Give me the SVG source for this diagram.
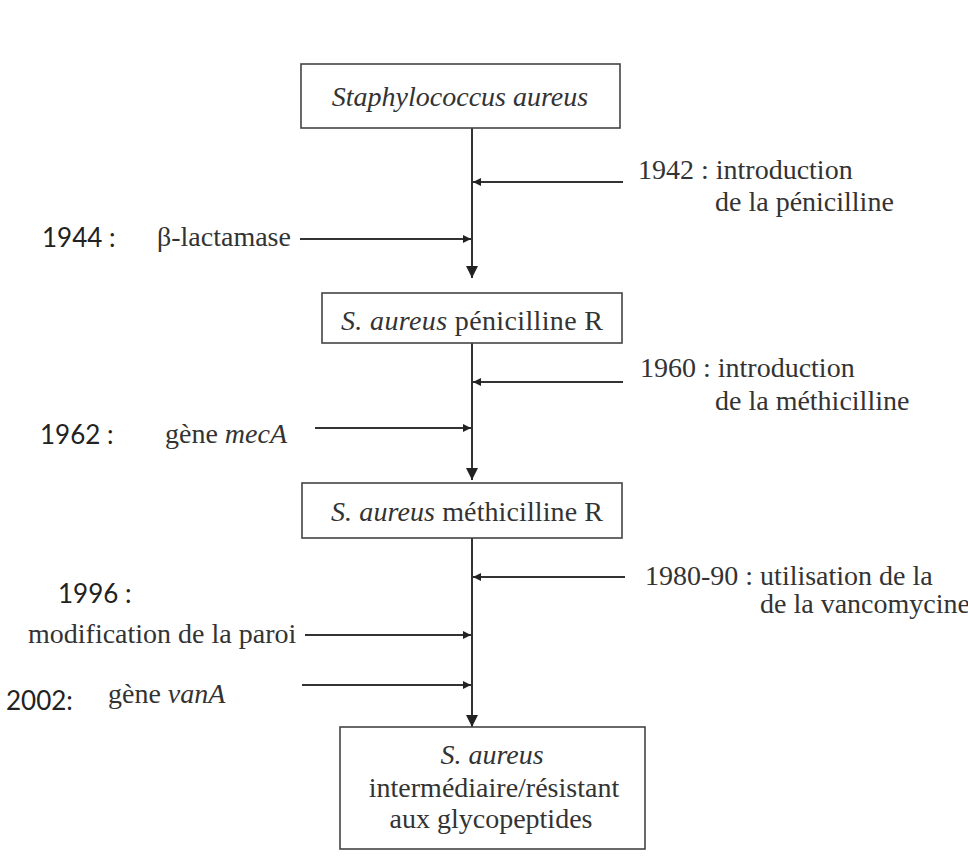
<svg xmlns="http://www.w3.org/2000/svg" width="968" height="864" viewBox="0 0 968 864">
<style>
.box{fill:#fff;stroke:#444;stroke-width:1.6}
.t{font-family:"Liberation Serif","Times New Roman",serif;font-size:28px;fill:#333}
.i{font-style:italic}
.y{font-family:Lato,"Open Sans",sans-serif;font-size:26px;fill:#222}
.ln{stroke:#333;stroke-width:2;fill:none}
</style>
<defs>
<marker id="ad" markerWidth="12" markerHeight="12" refX="10" refY="5" orient="auto" markerUnits="userSpaceOnUse" viewBox="0 0 10 10">
<path d="M0,0 L10,5 L0,10 Z" fill="#222"/>
</marker>
<marker id="as" markerWidth="9" markerHeight="8" refX="10" refY="5" orient="auto" markerUnits="userSpaceOnUse" viewBox="0 0 10 10">
<path d="M0,0 L10,5 L0,10 Z" fill="#222"/>
</marker>
</defs>
<rect width="968" height="864" fill="#fff"/>
<g id="connectors">
<line class="ln" x1="472" y1="128" x2="472" y2="278" marker-end="url(#ad)"/>
<line class="ln" x1="472" y1="343" x2="472" y2="480" marker-end="url(#ad)"/>
<line class="ln" x1="472" y1="538" x2="472" y2="727" marker-end="url(#ad)"/>
<line class="ln" x1="623" y1="182" x2="473" y2="182" marker-end="url(#as)"/>
<line class="ln" x1="300" y1="239" x2="471" y2="239" marker-end="url(#as)"/>
<line class="ln" x1="623" y1="382" x2="473" y2="382" marker-end="url(#as)"/>
<line class="ln" x1="315" y1="428" x2="471" y2="428" marker-end="url(#as)"/>
<line class="ln" x1="625" y1="577" x2="473" y2="577" marker-end="url(#as)"/>
<line class="ln" x1="305" y1="635" x2="471" y2="635" marker-end="url(#as)"/>
<line class="ln" x1="302" y1="685" x2="471" y2="685" marker-end="url(#as)"/>
</g>
<g id="n1">
<rect class="box" x="301" y="64" width="319" height="64"/>
<text class="t i" x="460" y="106" text-anchor="middle">Staphylococcus aureus</text>
</g>
<g id="n2">
<rect class="box" x="322" y="293" width="300" height="50"/>
<text class="t" x="472" y="330" text-anchor="middle" textLength="262"><tspan class="i">S. aureus</tspan> pénicilline R</text>
</g>
<g id="n3">
<rect class="box" x="302" y="483" width="320" height="55"/>
<text class="t" x="467" y="521" text-anchor="middle" textLength="272"><tspan class="i">S. aureus</tspan> méthicilline R</text>
</g>
<g id="n4">
<rect class="box" x="340" y="727" width="305" height="122"/>
<text class="t i" x="492" y="764" text-anchor="middle">S. aureus</text>
<text class="t" x="494" y="797" text-anchor="middle">intermédiaire/résistant</text>
<text class="t" x="491" y="828" text-anchor="middle">aux glycopeptides</text>
</g>
<g id="l1942">
<text class="t" x="638" y="179">1942 : introduction</text>
<text class="t" x="715" y="211">de la pénicilline</text>
</g>
<g id="l1944">
<text class="y" x="42" y="247">1944 :</text>
<text class="t" x="157" y="246">β-lactamase</text>
</g>
<g id="l1960">
<text class="t" x="640" y="377">1960 : introduction</text>
<text class="t" x="715" y="410">de la méthicilline</text>
</g>
<g id="l1962">
<text class="y" x="40" y="444">1962 :</text>
<text class="t" x="165" y="443">gène <tspan class="i">mecA</tspan></text>
</g>
<g id="l1980">
<text class="t" x="645" y="585">1980-90 : utilisation de la</text>
<text class="t" x="760" y="613">de la vancomycine</text>
</g>
<g id="l1996">
<text class="y" x="58" y="603">1996 :</text>
<text class="t" x="28" y="643">modification de la paroi</text>
</g>
<g id="l2002">
<text class="y" x="6" y="710">2002:</text>
<text class="t" x="108" y="703">gène <tspan class="i">vanA</tspan></text>
</g>
</svg>
